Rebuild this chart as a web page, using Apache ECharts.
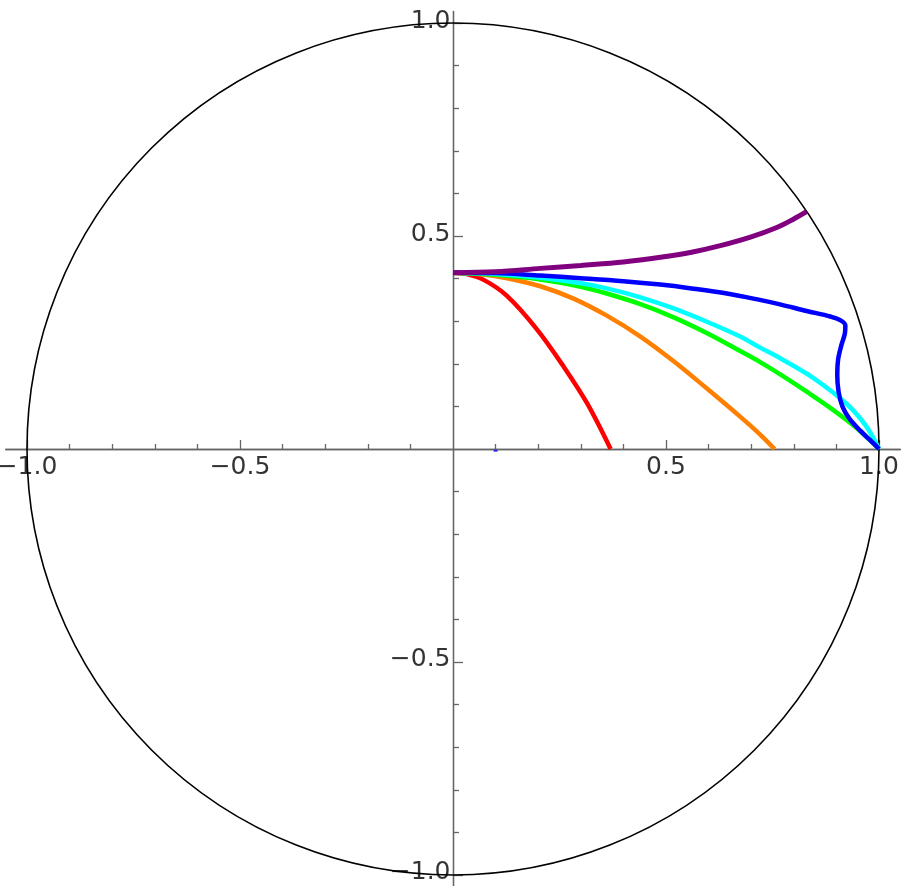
<!DOCTYPE html>
<html>
<head>
<meta charset="utf-8">
<script src="https://cdn.jsdelivr.net/npm/echarts@6/dist/echarts.min.js"></script>
<style>
html,body{margin:0;padding:0;background:#fff;}
#chart{width:909px;height:886px;}
</style>
</head>
<body>
<div id="chart"></div>
<script>
// ---- data ----
const majorTicks = [-1, -0.5, 0.5, 1];
const minorTicks = [-0.9,-0.8,-0.7,-0.6,-0.4,-0.3,-0.2,-0.1,0.1,0.2,0.3,0.4,0.6,0.7,0.8,0.9];

const redData = [[0,0.414],[0.03,0.411],[0.072,0.397],[0.126,0.360],[0.197,0.281],[0.26,0.193],[0.315,0.107],[0.37,0]];
const orangeData = [[0,0.414],[0.06,0.411],[0.127,0.401],[0.205,0.382],[0.283,0.353],[0.361,0.313],[0.44,0.264],[0.518,0.206],[0.596,0.142],[0.674,0.076],[0.721,0.034],[0.755,0]];
const greenData = [[0,0.414],[0.1,0.409],[0.205,0.398],[0.3,0.381],[0.361,0.365],[0.44,0.340],[0.518,0.309],[0.6,0.270],[0.674,0.230],[0.721,0.204],[0.77,0.174],[0.831,0.134],[0.9,0.086],[0.95,0.047],[1,0]];
const cyanData = [[0,0.414],[0.1,0.411],[0.205,0.402],[0.3,0.389],[0.361,0.377],[0.44,0.356],[0.518,0.330],[0.6,0.297],[0.674,0.264],[0.721,0.238],[0.77,0.212],[0.847,0.166],[0.925,0.105],[0.971,0.052],[1,0]];
const blueData = [[0,0.414],[0.1,0.413],[0.205,0.407],[0.3,0.401],[0.4,0.394],[0.487,0.386],[0.56,0.377],[0.643,0.365],[0.72,0.350],[0.77,0.339],[0.83,0.324],[0.886,0.311],[0.91,0.302],[0.921,0.290],[0.92,0.272],[0.912,0.245],[0.904,0.21],[0.902,0.175],[0.905,0.135],[0.914,0.10],[0.93,0.072],[0.956,0.043],[0.98,0.02],[1,0]];
const purpleData = [[0,0.414],[0.1,0.416],[0.205,0.424],[0.3,0.431],[0.4,0.439],[0.487,0.450],[0.56,0.462],[0.63,0.478],[0.7,0.498],[0.76,0.520],[0.80,0.540],[0.83,0.557]];
const dotData = [[0.1,-0.004]];

const xRange = [-1.05, 1.05];
const yRange = [-1.027, 1.027];

const AX = '#666666';
const fmt = v => (v < 0 ? '\u2212' : '') + Math.abs(v).toFixed(1);
const FONT = 'DejaVu Sans';
const FS = 25;

function mkAxis(ticks, len, isX){
  return {
    type:'value', min: isX ? xRange[0] : yRange[0], max: isX ? xRange[1] : yRange[1],
    position: isX ? 'bottom' : 'left',
    axisLine:{show:true, onZero:true, onZeroAxisIndex:0, lineStyle:{color:AX, width:1.3}},
    axisTick:{show:true, inside:true, length:len, customValues:ticks, lineStyle:{color:AX, width:1.3}},
    axisLabel:{show:false},
    splitLine:{show:false}, minorTick:{show:false}
  };
}

function line(data, color, w){
  return {type:'line', data:data, smooth:0.35, showSymbol:false, symbol:'none',
    lineStyle:{color:color, width:w, cap:'butt'}, itemStyle:{color:color}, clip:false, xAxisIndex:0, yAxisIndex:0, z:3};
}

function labelSeries(data, pos, dist, offset){
  return {type:'scatter', data:data, symbol:'circle', symbolSize:1, silent:true, z:1,
    itemStyle:{color:'rgba(0,0,0,0)'},
    label:{show:true, position:pos, distance:dist, offset:offset,
      formatter:p => fmt(p.data[2]),
      fontFamily:FONT, fontSize:FS, color:'#000'}};
}

const xLabelData = majorTicks.map(v => [v, 0, v]);
const yLabelData = majorTicks.map(v => [0, v, v]);

const chart = echarts.init(document.getElementById('chart'), null, {renderer:'canvas'});
chart.setOption({
  animation:false,
  backgroundColor:'#fff',
  grid:{left:5.7, top:11.5, width:894.6, height:875, containLabel:false, outerBoundsMode:'none'},
  xAxis:[mkAxis(majorTicks, 9, true), mkAxis(minorTicks, 5, true)],
  yAxis:[mkAxis(majorTicks, 10, false), mkAxis(minorTicks, 6, false)],
  series:[
    line(redData, '#ff0000', 4.5),
    line(orangeData, '#ff8000', 4.5),
    line(greenData, '#00ff00', 4.5),
    line(cyanData, '#00ffff', 4.5),
    line(blueData, '#0000ff', 4.5),
    line(purpleData, '#800080', 5),
    {type:'scatter', data:dotData, symbol:'rect', symbolSize:[4,2], itemStyle:{color:'#0000ff'}, xAxisIndex:0, yAxisIndex:0, z:3},
    labelSeries(xLabelData, 'bottom', 5, [0,0]),
    labelSeries(yLabelData, 'left', 2, [0,-2])
  ]
});

const c = chart.convertToPixel({gridIndex:0}, [0,0]);
const e = chart.convertToPixel({gridIndex:0}, [1,0]);
chart.setOption({
  graphic:[{type:'circle', z:2, silent:true,
    shape:{cx:c[0], cy:c[1], r:e[0]-c[0]},
    style:{fill:null, stroke:'#000', lineWidth:1.6}}]
});
</script>
</body>
</html>
